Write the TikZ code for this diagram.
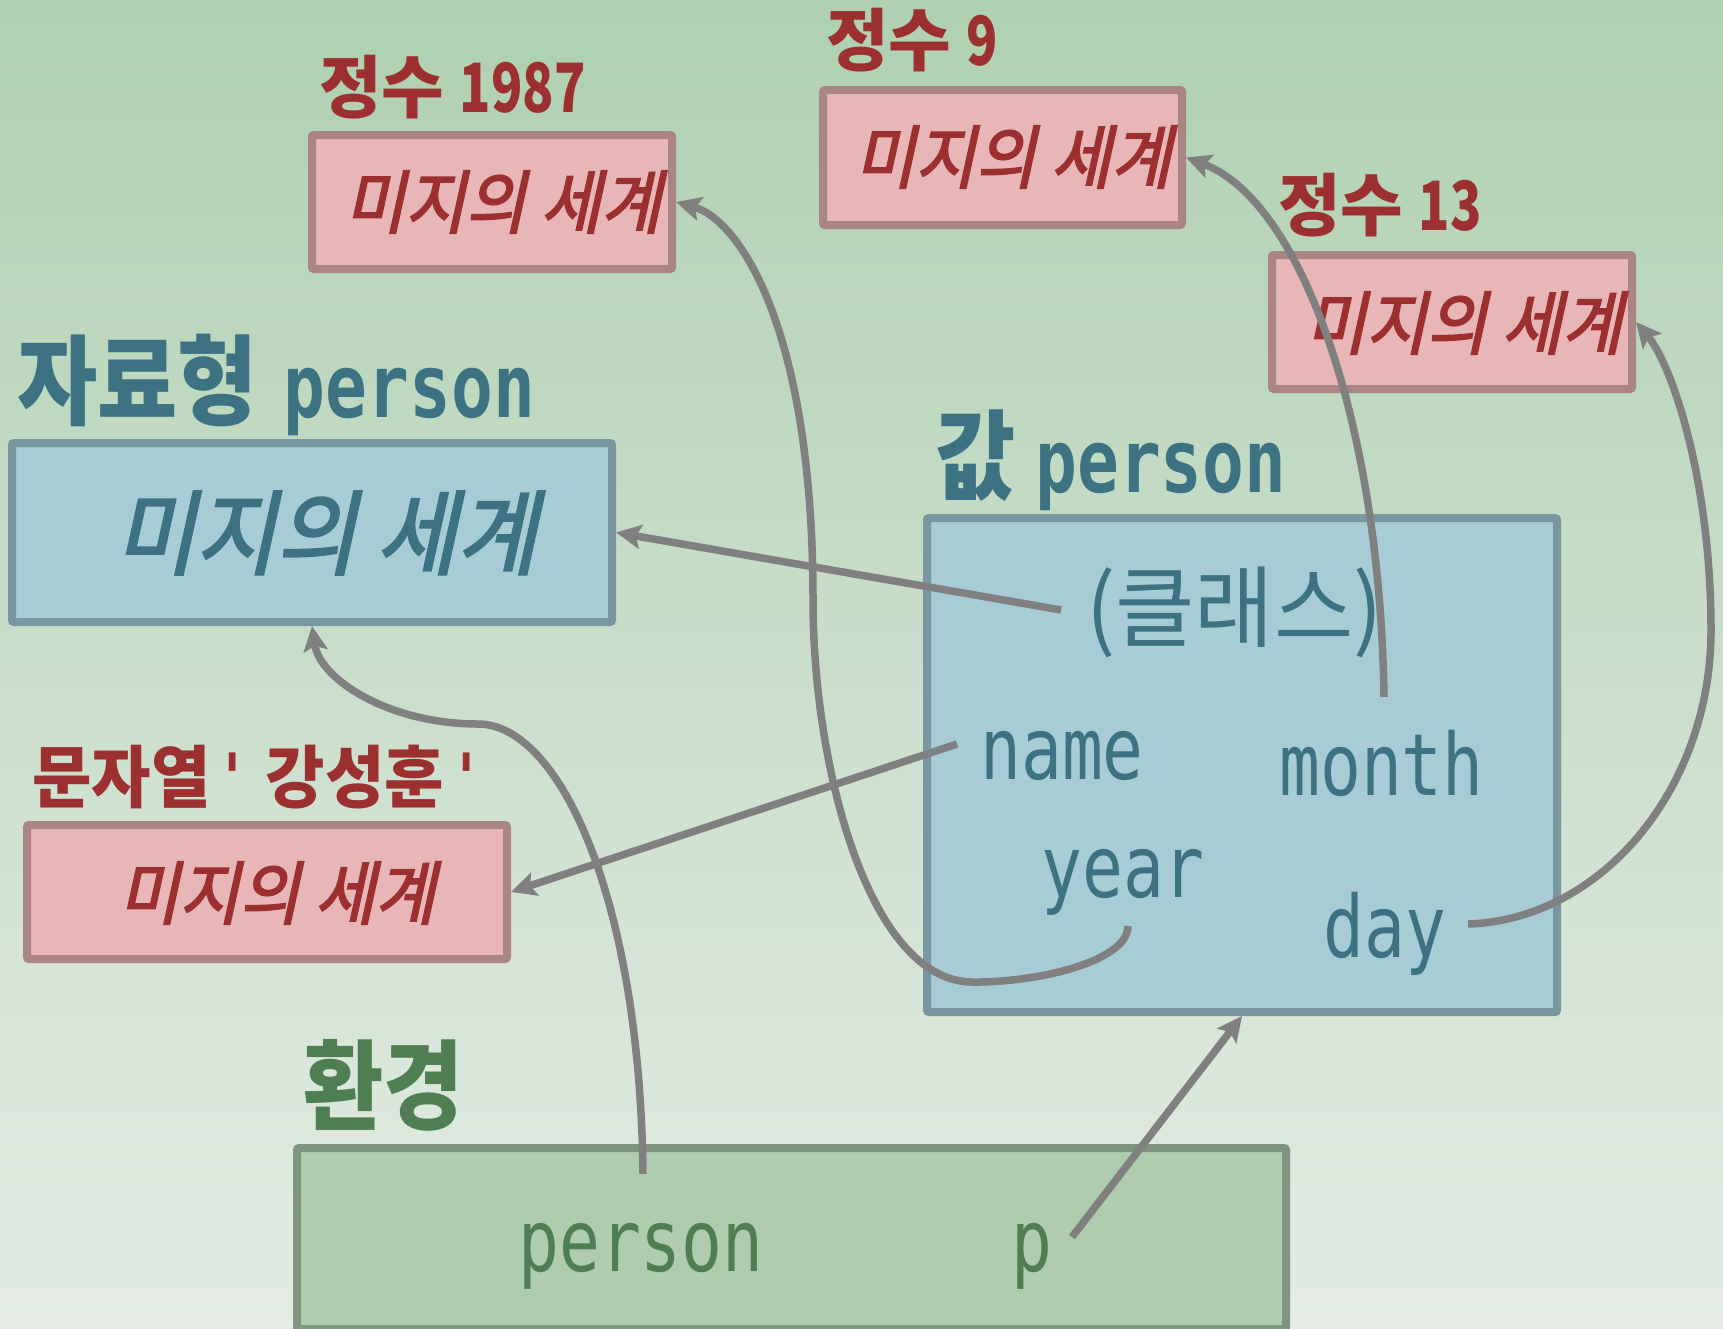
\documentclass[tikz,border=0pt]{standalone}
\usepackage{fontspec}
\setmonofont[FakeStretch=0.79]{DejaVu Sans Mono}
\newfontfamily\kr[FakeStretch=0.89]{Noto Sans CJK KR}
\newfontfamily\krw[FakeStretch=0.95]{Noto Sans CJK KR}
\newfontfamily\krn[FakeStretch=1.0]{Noto Sans CJK KR}
\newfontfamily\krd[FakeStretch=0.76]{Noto Sans CJK KR}
\newfontfamily\krc[FakeStretch=0.97]{Noto Sans CJK KR}
\newfontfamily\krit[FakeStretch=0.95,FakeSlant=0.22,FakeBold=2.5]{Noto Sans CJK KR}
\usetikzlibrary{arrows.meta}
\definecolor{bgtop}{HTML}{AFD0B1}
\definecolor{bgbot}{HTML}{E4ECE4}
\definecolor{redtext}{HTML}{9C3030}
\definecolor{redfill}{HTML}{E8B6B6}
\definecolor{redline}{HTML}{AB8484}
\definecolor{bluefill}{HTML}{A8CCD6}
\definecolor{blueline}{HTML}{7897A0}
\definecolor{tealtext}{HTML}{3C7282}
\definecolor{greenfill}{HTML}{AFCCAF}
\definecolor{greenline}{HTML}{7E967F}
\definecolor{greentext}{HTML}{4F7E53}
\definecolor{arrowgray}{HTML}{808080}
\newcommand\numtxt[1]{{\krd #1}}
\begin{document}
\begin{tikzpicture}[x=1pt,y=-1pt,
  box/.style={rectangle, line width=8pt, rounded corners=2pt, inner sep=0pt},
  redbox/.style={box, draw=redline, fill=redfill},
  bluebox/.style={box, draw=blueline, fill=bluefill},
  greenbox/.style={box, draw=greenline, fill=greenfill},
  lbl/.style={anchor=base west, inner sep=0pt},
  redlbl/.style={lbl, text=redtext, font=\krw\bfseries\fontsize{68}{80}\selectfont},
  numlbl/.style={lbl, text=redtext, font=\krn\bfseries\fontsize{68}{80}\selectfont},
  bluelbl/.style={lbl, text=tealtext, font=\kr\bfseries\fontsize{98}{104}\selectfont},
  greenlbl/.style={lbl, text=greentext, font=\kr\bfseries\fontsize{98}{104}\selectfont},
  itred/.style={inner sep=0pt, text=redtext, font=\krit\fontsize{69}{80}\selectfont},
  itblue/.style={inner sep=0pt, text=tealtext, font=\krit\fontsize{92}{100}\selectfont},
  field/.style={lbl, text=tealtext, font=\ttfamily\fontsize{86}{90}\selectfont},
  envfield/.style={lbl, text=greentext, font=\ttfamily\fontsize{86}{90}\selectfont},
  arr/.style={draw=arrowgray, line width=7.5pt, -{Stealth[length=25pt,width=24pt,inset=5pt]}}
]
\useasboundingbox (0,0) rectangle (1723,1328);
\shade[top color=bgtop, bottom color=bgbot] (0,0) rectangle (1723,1328);

% boxes
\node[redbox, minimum width=360pt, minimum height=134pt] (A) at (492,202) {};
\node[redbox, minimum width=359pt, minimum height=135pt] (B) at (1002.5,157.5) {};
\node[redbox, minimum width=360pt, minimum height=134pt] (C) at (1452,322) {};
\node[bluebox, minimum width=600pt, minimum height=179pt] (D) at (312,532.5) {};
\node[redbox, minimum width=480pt, minimum height=134pt] (E) at (267,892) {};
\node[bluebox, minimum width=630pt, minimum height=494pt] (F) at (1242,765) {};
\node[greenbox, minimum width=989pt, minimum height=181pt] (G) at (791.5,1238.5) {};

% box contents
\node[itred] (At) at (503,202) {미지의 세계};
\node[itred] (Bt) at (1013,157) {미지의 세계};
\node[itred] (Ct) at (1464,323) {미지의 세계};
\node[itblue] (Dt) at (326,533) {미지의 세계};
\node[itred] (Et) at (277,893) {미지의 세계};

% labels
\node[numlbl] (Al) at (319,112) {정수 \numtxt{1987}};
\node[numlbl] (Bl) at (826,65) {정수 \numtxt{9}};
\node[numlbl] (Cl) at (1278,230) {정수 \numtxt{13}};
\node[bluelbl] (Dl) at (17,417) {자료형 \hspace{6pt}{\ttfamily\bfseries\fontsize{88}{90}\selectfont person}};
\node[redlbl] (El) at (32,802) {문자열\hspace{6pt}{\ttfamily '}\hspace{17pt}강성훈\hspace{6pt}{\ttfamily '}};
\node[bluelbl] (Fl) at (935,492) {값 {\ttfamily\bfseries\fontsize{88}{90}\selectfont person}};
\node[greenlbl] (Gl) at (303,1122) {환경};

% fields
\node[lbl, text=tealtext, font=\krc\fontsize{89}{95}\selectfont] (klass) at (1086,640) {(클래스)};
\node[field] (name) at (980,779) {name};
\node[field] (month) at (1279,795) {month};
\node[field] (year) at (1041,897) {year};
\node[field] (day) at (1323,957) {day};
\node[envfield] (envperson) at (518,1271) {person};
\node[envfield] (envp) at (1011,1271) {p};

% connector start points
\coordinate (klassL) at (1061,610);
\coordinate (monthT) at (1384,697);
\coordinate (dayR) at (1468,924);
\coordinate (yearB) at (1128,926);
\coordinate (nameL) at (957,744);
\coordinate (envpersonT) at (643,1174);
\coordinate (envpR) at (1072,1237);

% connectors
\draw[arr] (klassL) -- (D.east);
\draw[arr] (monthT) .. controls (1380,420) and (1300,200) .. (B.east);
\draw[arr] (dayR) .. controls (1600,920) and (1711,790) .. (1711,630) .. controls (1711,480) and (1672,365) .. (C.east);
\draw[arr] (yearB) .. controls (1128,962) and (1035,983) .. (971,982) .. controls (870,980) and (813,770) .. (813,600) .. controls (813,330) and (740,220) .. (A.east);
\draw[arr] (nameL) -- (E.east);
\draw[arr] (envpersonT) .. controls (640,900) and (560,724) .. (478,724) .. controls (390,724) and (320,680) .. (D.south);
\draw[arr] (envpR) -- (F.south);
\end{tikzpicture}
\end{document}
